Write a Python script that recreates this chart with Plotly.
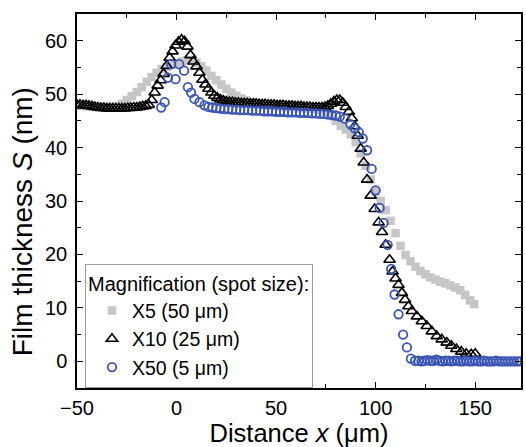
import plotly.graph_objects as go

# ---- data ----
x5_x = [-50, -47.5, -45, -42.5, -40, -37.5, -35, -32.5, -30, -27.5, -25, -22.5, -20, -17.5, -15, -12.5,
        -10, -7.5, -5, -2.5, 0, 2.5, 5, 7.5, 10, 12.5, 15, 17.5, 20, 22.5, 25, 27.5, 30, 32.5, 35, 37.5,
        40, 42.5, 45, 47.5, 50, 52.5, 55, 57.5, 60, 62.5, 65, 67.5, 70, 72.5, 75, 77.5, 80, 82.5, 85,
        87.5, 90, 92.5, 95, 97.5, 100, 102.5, 105, 107.5, 110, 112.5, 115, 117.5, 120, 122.5, 125, 127.5,
        130, 132.5, 135, 137.5, 140, 142.5, 145, 147.5, 149.5]
x5_y = [47.8, 47.8, 47.7, 47.7, 47.6, 47.6, 47.6, 47.7, 47.8, 48.2, 48.9, 49.6, 50.4, 51.3, 52.3, 53.2,
        54.0, 54.7, 55.1, 55.5, 55.8, 56.1, 56.3, 56.2, 55.9, 55.2, 54.4, 53.4, 52.6, 51.8, 51.0, 50.3,
        49.7, 49.2, 48.8, 48.5, 48.3, 48.1, 48.0, 47.9, 47.8, 47.7, 47.6, 47.6, 47.5, 47.4, 47.4, 47.3,
        47.2, 47.0, 46.6, 45.9, 45.0, 44.1, 43.4, 42.5, 41.0, 38.9, 36.6, 34.0, 31.8, 30.0, 28.3, 26.3,
        24.0, 21.6, 19.9, 18.7, 17.7, 16.9, 16.3, 15.7, 15.3, 14.9, 14.6, 14.2, 13.8, 13.3, 12.4, 11.4, 10.7]

x10_x = [-50, -48.5, -47, -45.5, -44, -42.5, -41, -39.5, -38, -36.5, -35, -33.5, -32, -30.5, -29, -27.5,
         -26, -24.5, -23, -21.5, -20, -18.5, -17, -15.5, -14,
         -12.5, -11, -9.5, -8, -6.5, -5, -3.5, -2, -0.5, 1, 2.5, 4, 5.5, 7, 8.5, 10, 11.5, 13, 14.5, 16,
         17.5, 19, 20.5, 22, 23.5, 25,
         26.5, 28, 29.5, 31, 32.5, 34, 35.5, 37, 38.5, 40, 41.5, 43, 44.5, 46, 47.5, 49, 50.5, 52, 53.5,
         55, 56.5, 58, 59.5, 61, 62.5, 64, 65.5, 67, 68.5, 70, 71.5, 73, 74.5, 76, 77.5, 79, 80.5, 82, 83.5,
         85, 86.5, 88, 89.5, 91, 92.5, 94, 95.7, 97.5, 99.5, 101.5, 103.2, 105, 107, 108.5, 110, 111.5,
         113.2, 114.8, 116.5, 118.2, 120.7, 123.2, 125.7, 128.2, 130.7, 133.2, 135.7, 138, 140.5, 143,
         145.5, 148, 150]
x10_y = [48.0, 48.0, 47.9, 47.9, 47.8, 47.7, 47.6, 47.5, 47.4, 47.4, 47.3, 47.3, 47.3, 47.3, 47.3, 47.3,
         47.3, 47.4, 47.4, 47.5, 47.5, 47.6, 47.7, 47.8, 48.0,
         48.9, 50.3, 51.6, 52.6, 53.8, 55.3, 56.8, 58.0, 59.1, 59.8, 60.2, 59.9, 58.9, 57.3, 56.1, 55.2,
         54.0, 52.7, 51.8, 51.0, 50.3, 49.7, 49.3, 49.0, 48.8, 48.6,
         48.5, 48.5, 48.4, 48.4, 48.3, 48.3, 48.3, 48.2, 48.2, 48.2, 48.1, 48.1, 48.1, 48.0, 48.0, 48.0,
         47.9, 47.9, 47.9, 47.8, 47.8, 47.8, 47.7, 47.7, 47.7, 47.6, 47.6, 47.6, 47.5, 47.5, 47.5, 47.5,
         47.6, 47.8, 48.2, 48.6, 48.9, 48.9, 48.4,
         47.6, 46.7, 45.5, 44.0, 42.2, 39.8, 37.2, 34.0, 31.0, 28.5, 26.0, 24.2, 21.8, 19.0, 16.8, 15.5,
         14.3, 12.8, 11.5, 10.3, 9.4, 8.4, 7.5, 6.6, 5.6, 4.7, 4.1, 3.5, 2.9, 2.3, 1.8, 1.4, 1.3, 1.4]

x50_x = [-7.7, -6, -4.3, -2.7, -0.5, 1.3, 3.8, 5.7, 7.3, 9, 11.5, 14, 16, 18, 20, 22, 24, 26, 28, 30,
         32, 34, 36, 38, 40, 42, 44, 46, 48, 50, 52, 54, 56, 58, 60, 62, 64, 66, 68, 70, 72, 74, 76, 78,
         80, 82, 84.5, 87.3, 89.5, 91.5, 93.5, 95.7, 98, 100, 102, 104, 106, 107.8, 109.5, 111.5, 113.8,
         115.7, 117.7, 119.8, 121.5, 123, 124.5, 126, 127.5, 129, 130.5, 132, 133.5, 135, 136.5, 138,
         139.5, 141, 142.5, 144, 145.5, 147, 148.5, 150, 151.5, 153, 154.5, 156, 157.5, 159, 160.5, 162,
         163.5, 165, 166.5, 168, 169.5, 171, 172.5]
x50_y = [47.5, 48.5, 53.1, 55.6, 52.8, 55.6, 54.4, 51.3, 50.3, 49.1, 48.5, 47.9, 47.6, 47.5, 47.4, 47.3,
         47.2, 47.2, 47.1, 47.1, 47.0, 47.0, 47.0, 46.9, 46.9, 46.9, 46.8, 46.8, 46.8, 46.7, 46.7, 46.7,
         46.6, 46.6, 46.6, 46.5, 46.5, 46.5, 46.4, 46.4, 46.3, 46.3, 46.2, 46.1, 46.0, 45.8, 45.4, 44.4,
         43.6, 42.9, 41.7, 39.5, 36.0, 32.0, 28.7, 25.9, 21.8, 17.3, 12.5, 8.8, 5.0, 2.6, 0.5, 0.1,
         0.1, 0.0, 0.1, 0.2, 0.1, 0.1, 0.3, 0.1, 0.0, 0.1, 0.1, 0.0, 0.1, 0.1, 0.0, 0.0, 0.1, 0.0, 0.0,
         0.1, 0.0, 0.0, 0.1, 0.0, 0.0, 0.0, 0.1, 0.0, 0.0, 0.0, 0.0, 0.0, 0.0, 0.0, 0.0]

names = ["X5 (50 μm)", "X10 (25 μm)", "X50 (5 μm)"]

FONT = "Liberation Sans, Arial, sans-serif"

fig = go.Figure()
fig.add_trace(go.Scatter(x=x5_x, y=x5_y, mode="markers", name=names[0],
                         marker=dict(symbol="square", size=8.5, color="#c6c6c6", line=dict(width=0))))
fig.add_trace(go.Scatter(x=x10_x, y=x10_y, mode="markers", name=names[1],
                         marker=dict(symbol="triangle-up-open", size=10, color="black",
                                     line=dict(width=1.6, color="black"))))
fig.add_trace(go.Scatter(x=x50_x, y=x50_y, mode="markers", name=names[2],
                         marker=dict(symbol="circle-open", size=8.5, color="#3b55b5",
                                     line=dict(width=1.8, color="#3b55b5"))))

axis_common = dict(showline=True, linecolor="black", linewidth=1.5, mirror="ticks",
                   ticks="inside", ticklen=6, tickwidth=1.3, tickcolor="black",
                   showgrid=False, zeroline=False,
                   tickfont=dict(family=FONT, size=20, color="black"),
                   minor=dict(ticks="inside", ticklen=4, tickwidth=1.3, tickcolor="black", showgrid=False))

fig.update_xaxes(range=[-50, 173], tickvals=[-50, 0, 50, 100, 150], ticklabelstandoff=1,
                 title=dict(text="Distance <i>x</i> (μm)", font=dict(family=FONT, size=25.5, color="black"),
                            standoff=1),
                 **axis_common)
fig.update_xaxes(minor_tickvals=[-25, 25, 75, 125])
fig.update_yaxes(range=[-5, 65], tickvals=[0, 10, 20, 30, 40, 50, 60], ticklabelstandoff=4,
                 **axis_common)
fig.update_yaxes(minor_tickvals=[-5, 5, 15, 25, 35, 45, 55, 65])

# y-axis title placed as an annotation (the reference sits slightly below the plot centre)
fig.add_annotation(text="Film thickness <i>S</i> (nm)", textangle=-90,
                   xref="paper", yref="paper", x=(22 - 77) / 446, y=(388 - 222) / 374,
                   xanchor="center", yanchor="middle", showarrow=False,
                   font=dict(family=FONT, size=28, color="black"))

fig.update_layout(
    width=526, height=447,
    margin=dict(l=77, r=3, t=14, b=59),
    plot_bgcolor="white", paper_bgcolor="white",
    font=dict(family=FONT, size=20, color="black"),
    legend=dict(x=0.018, y=0.331, xanchor="left", yanchor="top",
                title=dict(text="Magnification (spot size):", font=dict(family=FONT, size=20)),
                font=dict(family=FONT, size=19.5, color="black"),
                bgcolor="white", bordercolor="#999999", borderwidth=1,
                tracegroupgap=0, indentation=6),
)

fig.write_html("out.html")
